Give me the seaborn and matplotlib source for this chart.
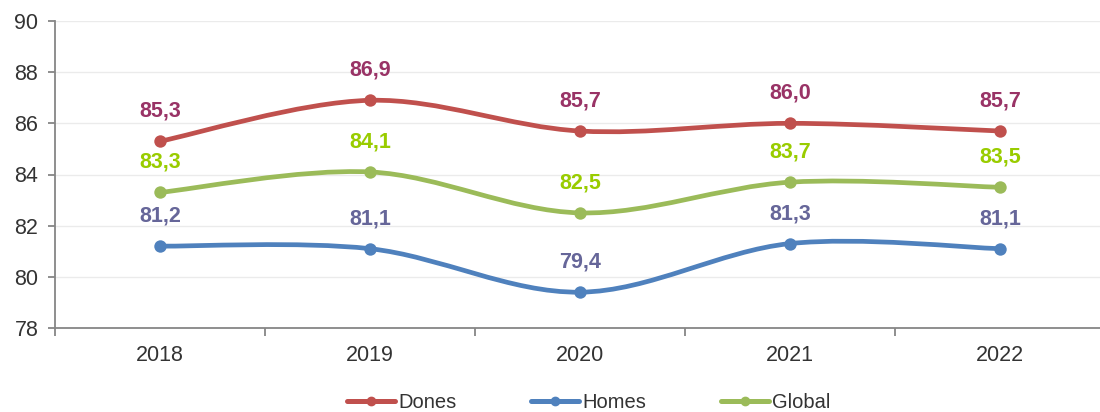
import numpy as np
import pandas as pd
import matplotlib
matplotlib.use("Agg")
import matplotlib.pyplot as plt
import seaborn as sns
from matplotlib.path import Path
from matplotlib.patches import PathPatch
from matplotlib.lines import Line2D

sns.set_style("white")
plt.rcParams['font.family'] = ['Liberation Sans', 'DejaVu Sans']

# Дані
years = ['2018', '2019', '2020', '2021', '2022']
dones = [85.3, 86.9, 85.7, 86.0, 85.7]
homes = [81.2, 81.1, 79.4, 81.3, 81.1]
global_ = [83.3, 84.1, 82.5, 83.7, 83.5]

series_names = ['Dones', 'Homes', 'Global']
line_colors = ['#C0504D', '#4F81BD', '#9BBB59']
label_colors = ['#993366', '#666699', '#99CC00']

df = pd.DataFrame({'year': years * 3,
                   'value': dones + homes + global_,
                   'serie': np.repeat(series_names, len(years))})
df['x'] = np.tile(np.arange(len(years)), 3)


def smooth_path(xs, ys):
    """Corba suavitzada tipus Excel (Catmull-Rom -> Bezier)"""
    pts = list(zip(xs, ys))
    verts = [pts[0]]
    codes = [Path.MOVETO]
    n = len(pts)
    for i in range(n - 1):
        p0 = pts[i - 1] if i > 0 else pts[i]
        p1 = pts[i]
        p2 = pts[i + 1]
        p3 = pts[i + 2] if i + 2 < n else pts[i + 1]
        c1 = (p1[0] + (p2[0] - p0[0]) / 6, p1[1] + (p2[1] - p0[1]) / 6)
        c2 = (p2[0] - (p3[0] - p1[0]) / 6, p2[1] - (p3[1] - p1[1]) / 6)
        verts += [c1, c2, p2]
        codes += [Path.CURVE4] * 3
    return Path(verts, codes)


fig = plt.figure(figsize=(11, 4.12), dpi=100)
ax = fig.add_axes([55 / 1100, (412 - 328) / 412, 1050 / 1100, (328 - 21) / 412])

for name, lc, tc in zip(series_names, line_colors, label_colors):
    sub = df[df['serie'] == name]
    ax.add_patch(PathPatch(smooth_path(sub['x'].values, sub['value'].values),
                           facecolor='none', edgecolor=lc, lw=3.4, zorder=3,
                           capstyle='round'))
    sns.scatterplot(data=sub, x='x', y='value', color=lc, s=80, linewidth=0,
                    ax=ax, zorder=4, legend=False)
    for xv, yv in zip(sub['x'], sub['value']):
        ax.annotate(f"{yv:.1f}".replace('.', ','), (xv, yv), xytext=(0, 14),
                    textcoords='offset points', ha='center', va='bottom',
                    color=tc, fontsize=15.5, fontweight='bold')

ax.set_xlim(-0.5, 4.5)
ax.set_ylim(78, 90)
ax.set_yticks(range(78, 91, 2))
ax.set_xticks(range(len(years)))
ax.set_xticklabels(years)
ax.set_xticks(np.arange(-0.5, 4.6, 1), minor=True)
ax.set_xlabel('')
ax.set_ylabel('')
ax.yaxis.grid(True, color='#EBEBEB', lw=1)
ax.set_axisbelow(True)

for s in ['top', 'right']:
    ax.spines[s].set_visible(False)
for s in ['left', 'bottom']:
    ax.spines[s].set_color('#868686')
    ax.spines[s].set_linewidth(1.3)

ax.tick_params(axis='x', which='major', length=0, pad=12, labelsize=15.5, labelcolor='#333333')
ax.tick_params(axis='x', which='minor', length=6, width=1.3, color='#868686', direction='out')
ax.tick_params(axis='y', length=5, width=1.3, color='#868686', labelsize=15.5, labelcolor='#333333', pad=7)
ax.tick_params(left=True, bottom=True, which='both')

handles = [Line2D([0], [0], color=c, lw=3.6, marker='o', markersize=6) for c in line_colors]
fig.legend(handles, series_names, loc='lower center', bbox_to_anchor=(0.535, -0.045),
           ncol=3, frameon=False, fontsize=14.5, handlelength=2.4, handletextpad=0.15,
           columnspacing=3.7, labelcolor='#333333')

fig.savefig('out.png', dpi=100)
